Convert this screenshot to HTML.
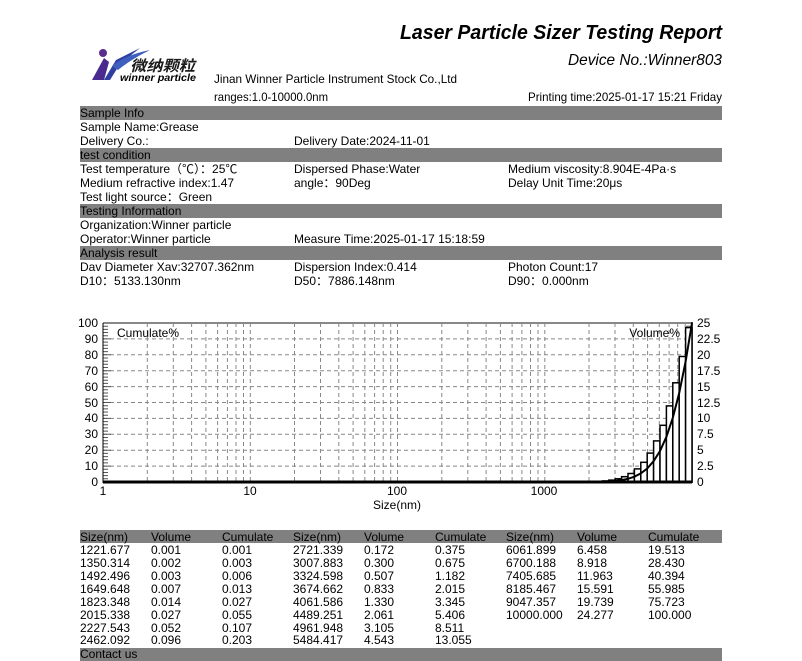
<!DOCTYPE html>
<html><head><meta charset="utf-8"><style>
html,body{margin:0;padding:0;background:#fff;width:802px;height:661px;overflow:hidden}
svg{display:block}
text{font-family:"Liberation Sans","Noto Sans CJK SC",sans-serif;font-size:12px;fill:#000}
</style></head><body>
<svg width="802" height="661" viewBox="0 0 802 661" xmlns="http://www.w3.org/2000/svg">
<!-- header -->
<text x="722" y="39" text-anchor="end" style="font-size:20px;font-weight:bold;font-style:italic" textLength="322" lengthAdjust="spacingAndGlyphs">Laser Particle Sizer Testing Report</text>
<text x="722" y="65" text-anchor="end" style="font-size:16px;font-style:italic" textLength="154" lengthAdjust="spacingAndGlyphs">Device No.:Winner803</text>
<!-- logo -->
<circle cx="103" cy="53" r="4" fill="#5a2d91"/>
<path d="M92 80 L104 58 L109 62 L104 80 Z" fill="#4b2a8f"/>
<path d="M104 80 L116 60 L140 48 L120 64 L110 80 Z" fill="#2f3f9f"/>
<path d="M112 66 Q125 55 150 50 Q130 60 118 70 Z" fill="#3f5fbf"/>
<text x="130" y="71" style="font-size:15px;font-weight:bold;font-style:italic;fill:#1a1a1a" textLength="65" lengthAdjust="spacingAndGlyphs">微纳颗粒</text>
<text x="120" y="81" style="font-size:10px;font-weight:bold;font-style:italic" textLength="76" lengthAdjust="spacingAndGlyphs">winner particle</text>
<text x="214" y="83" textLength="243" lengthAdjust="spacingAndGlyphs">Jinan Winner Particle Instrument Stock Co.,Ltd</text>
<text x="214" y="101" textLength="114" lengthAdjust="spacingAndGlyphs">ranges:1.0-10000.0nm</text>
<text x="722" y="101" text-anchor="end" textLength="194" lengthAdjust="spacingAndGlyphs">Printing time:2025-01-17 15:21 Friday</text>
<!-- section bars -->
<g fill="#808080">
<rect x="80" y="106" width="642" height="14"/>
<rect x="80" y="148" width="642" height="14"/>
<rect x="80" y="204" width="642" height="14"/>
<rect x="80" y="246" width="642" height="14"/>
<rect x="80" y="530" width="642" height="13"/>
<rect x="80" y="648" width="642" height="13"/>
</g>
<g>
<text x="80" y="117">Sample Info</text>
<text x="80" y="131">Sample Name:Grease</text>
<text x="80" y="145">Delivery Co.:</text>
<text x="294" y="145">Delivery Date:2024-11-01</text>
<text x="80" y="159">test condition</text>
<text x="80" y="173">Test temperature（℃）：25℃</text>
<text x="294" y="173">Dispersed Phase:Water</text>
<text x="508" y="173">Medium viscosity:8.904E-4Pa·s</text>
<text x="80" y="187">Medium refractive index:1.47</text>
<text x="294" y="187">angle：90Deg</text>
<text x="508" y="187">Delay Unit Time:20μs</text>
<text x="80" y="201">Test light source：Green</text>
<text x="80" y="215">Testing Information</text>
<text x="80" y="229">Organization:Winner particle</text>
<text x="80" y="243">Operator:Winner particle</text>
<text x="294" y="243">Measure Time:2025-01-17 15:18:59</text>
<text x="80" y="257">Analysis result</text>
<text x="80" y="271">Dav Diameter Xav:32707.362nm</text>
<text x="294" y="271">Dispersion Index:0.414</text>
<text x="508" y="271">Photon Count:17</text>
<text x="80" y="285">D10：5133.130nm</text>
<text x="294" y="285">D50：7886.148nm</text>
<text x="508" y="285">D90：0.000nm</text>
</g>
<!-- chart grid -->
<g stroke="#888" stroke-width="1" stroke-dasharray="4,3" fill="none">
<path d="M147.3 323V482M173.3 323V482M191.6 323V482M205.9 323V482M217.6 323V482M227.4 323V482M236 323V482M243.5 323V482M250.3 323V482
M294.5 323V482M320.5 323V482M338.8 323V482M353.1 323V482M364.8 323V482M374.6 323V482M383.2 323V482M390.7 323V482M397.5 323V482
M441.8 323V482M467.8 323V482M486.1 323V482M500.4 323V482M512.1 323V482M521.9 323V482M530.5 323V482M538 323V482M544.8 323V482
M589 323V482M615 323V482M633.3 323V482M647.6 323V482M659.3 323V482M669.1 323V482M677.7 323V482M685.2 323V482"/>
<path d="M103 466.1H692M103 450.2H692M103 434.3H692M103 418.4H692M103 402.5H692M103 386.6H692M103 370.7H692M103 354.8H692M103 338.9H692"/>
</g>
<line x1="103" y1="323" x2="692" y2="323" stroke="#888" stroke-width="2"/>
<!-- left ticks -->
<g stroke="#555" stroke-width="1">
<path d="M103 326.2h5M103 329.4h5M103 332.5h5M103 335.7h5M103 338.9h8M103 342.1h5M103 345.3h5M103 348.4h5M103 351.6h5M103 354.8h8M103 358h5M103 361.2h5M103 364.3h5M103 367.5h5M103 370.7h8M103 373.9h5M103 377.1h5M103 380.2h5M103 383.4h5M103 386.6h8M103 389.8h5M103 393h5M103 396.1h5M103 399.3h5M103 402.5h8M103 405.7h5M103 408.9h5M103 412h5M103 415.2h5M103 418.4h8M103 421.6h5M103 424.8h5M103 427.9h5M103 431.1h5M103 434.3h8M103 437.5h5M103 440.7h5M103 443.8h5M103 447h5M103 450.2h8M103 453.4h5M103 456.6h5M103 459.7h5M103 462.9h5M103 466.1h8M103 469.3h5M103 472.5h5M103 475.6h5M103 478.8h5"/>
<path d="M692 326.2h-6M692 329.4h-6M692 332.5h-6M692 335.7h-6M692 338.9h-6M692 342.1h-6M692 345.3h-6M692 348.4h-6M692 351.6h-6M692 354.8h-6M692 358h-6M692 361.2h-6M692 364.3h-6M692 367.5h-6M692 370.7h-6M692 373.9h-6M692 377.1h-6M692 380.2h-6M692 383.4h-6M692 386.6h-6M692 389.8h-6M692 393h-6M692 396.1h-6M692 399.3h-6M692 402.5h-6M692 405.7h-6M692 408.9h-6M692 412h-6M692 415.2h-6M692 418.4h-6M692 421.6h-6M692 424.8h-6M692 427.9h-6M692 431.1h-6M692 434.3h-6M692 437.5h-6M692 440.7h-6M692 443.8h-6M692 447h-6M692 450.2h-6M692 453.4h-6M692 456.6h-6M692 459.7h-6M692 462.9h-6M692 466.1h-6M692 469.3h-6M692 472.5h-6M692 475.6h-6M692 478.8h-6"/>
</g>
<line x1="103" y1="323" x2="103" y2="483" stroke="#000"/>
<line x1="692" y1="322" x2="692" y2="483" stroke="#000" stroke-width="1.5"/>
<!-- bars -->
<g stroke="#000" stroke-width="1.5" fill="#fff">
<rect x="602.4" y="480.9" width="6.4" height="1.1"/>
<rect x="608.8" y="480.1" width="6.4" height="1.9"/>
<rect x="615.2" y="478.8" width="6.4" height="3.2"/>
<rect x="621.6" y="476.7" width="6.4" height="5.3"/>
<rect x="628" y="473.5" width="6.4" height="8.5"/>
<rect x="634.4" y="468.9" width="6.4" height="13.1"/>
<rect x="640.8" y="462.3" width="6.4" height="19.7"/>
<rect x="647.2" y="453.1" width="6.4" height="28.9"/>
<rect x="653.6" y="440.9" width="6.4" height="41.1"/>
<rect x="660" y="425.3" width="6.4" height="56.7"/>
<rect x="666.4" y="405.9" width="6.4" height="76.1"/>
<rect x="672.8" y="382.8" width="6.4" height="99.2"/>
<rect x="679.2" y="356.5" width="6.4" height="125.5"/>
<rect x="685.6" y="327.6" width="6.4" height="154.4"/>
</g>
<polyline fill="none" stroke="#000" stroke-width="2" points="557.6,482 602.4,481.7 608.8,481.4 615.2,480.9 621.6,480.1 628,478.8 634.4,476.7 640.8,473.4 647.2,468.5 653.6,461.2 660,451 666.4,436.8 672.8,417.8 679.2,393 685.6,361.6 692,323"/>
<line x1="103" y1="482" x2="692" y2="482" stroke="#000" stroke-width="3"/>
<text x="117" y="337">Cumulate%</text>
<text x="680" y="337" text-anchor="end">Volume%</text>
<!-- left labels -->
<g text-anchor="end">
<text x="98" y="327">100</text><text x="98" y="343">90</text><text x="98" y="359">80</text><text x="98" y="375">70</text><text x="98" y="391">60</text><text x="98" y="407">50</text><text x="98" y="422">40</text><text x="98" y="438">30</text><text x="98" y="454">20</text><text x="98" y="470">10</text><text x="98" y="486">0</text>
</g>
<g>
<text x="697" y="327">25</text><text x="697" y="343">22.5</text><text x="697" y="359">20</text><text x="697" y="375">17.5</text><text x="697" y="391">15</text><text x="697" y="407">12.5</text><text x="697" y="422">10</text><text x="697" y="438">7.5</text><text x="697" y="454">5</text><text x="697" y="470">2.5</text><text x="697" y="486">0</text>
</g>
<g text-anchor="middle">
<text x="103" y="495">1</text><text x="250" y="495">10</text><text x="397" y="495">100</text><text x="544" y="495">1000</text>
<text x="397" y="509">Size(nm)</text>
</g>
<!-- table -->
<g>
<text x="80" y="541">Size(nm)</text><text x="151" y="541">Volume</text><text x="222" y="541">Cumulate</text><text x="293" y="541">Size(nm)</text><text x="364" y="541">Volume</text><text x="435" y="541">Cumulate</text><text x="506" y="541">Size(nm)</text><text x="577" y="541">Volume</text><text x="648" y="541">Cumulate</text>
<text x="80" y="554">1221.677</text><text x="151" y="554">0.001</text><text x="222" y="554">0.001</text><text x="293" y="554">2721.339</text><text x="364" y="554">0.172</text><text x="435" y="554">0.375</text><text x="506" y="554">6061.899</text><text x="577" y="554">6.458</text><text x="648" y="554">19.513</text>
<text x="80" y="567">1350.314</text><text x="151" y="567">0.002</text><text x="222" y="567">0.003</text><text x="293" y="567">3007.883</text><text x="364" y="567">0.300</text><text x="435" y="567">0.675</text><text x="506" y="567">6700.188</text><text x="577" y="567">8.918</text><text x="648" y="567">28.430</text>
<text x="80" y="580">1492.496</text><text x="151" y="580">0.003</text><text x="222" y="580">0.006</text><text x="293" y="580">3324.598</text><text x="364" y="580">0.507</text><text x="435" y="580">1.182</text><text x="506" y="580">7405.685</text><text x="577" y="580">11.963</text><text x="648" y="580">40.394</text>
<text x="80" y="593">1649.648</text><text x="151" y="593">0.007</text><text x="222" y="593">0.013</text><text x="293" y="593">3674.662</text><text x="364" y="593">0.833</text><text x="435" y="593">2.015</text><text x="506" y="593">8185.467</text><text x="577" y="593">15.591</text><text x="648" y="593">55.985</text>
<text x="80" y="606">1823.348</text><text x="151" y="606">0.014</text><text x="222" y="606">0.027</text><text x="293" y="606">4061.586</text><text x="364" y="606">1.330</text><text x="435" y="606">3.345</text><text x="506" y="606">9047.357</text><text x="577" y="606">19.739</text><text x="648" y="606">75.723</text>
<text x="80" y="619">2015.338</text><text x="151" y="619">0.027</text><text x="222" y="619">0.055</text><text x="293" y="619">4489.251</text><text x="364" y="619">2.061</text><text x="435" y="619">5.406</text><text x="506" y="619">10000.000</text><text x="577" y="619">24.277</text><text x="648" y="619">100.000</text>
<text x="80" y="632">2227.543</text><text x="151" y="632">0.052</text><text x="222" y="632">0.107</text><text x="293" y="632">4961.948</text><text x="364" y="632">3.105</text><text x="435" y="632">8.511</text>
<text x="80" y="644">2462.092</text><text x="151" y="644">0.096</text><text x="222" y="644">0.203</text><text x="293" y="644">5484.417</text><text x="364" y="644">4.543</text><text x="435" y="644">13.055</text>
<text x="80" y="658">Contact us</text>
</g>
</svg>
</body></html>
